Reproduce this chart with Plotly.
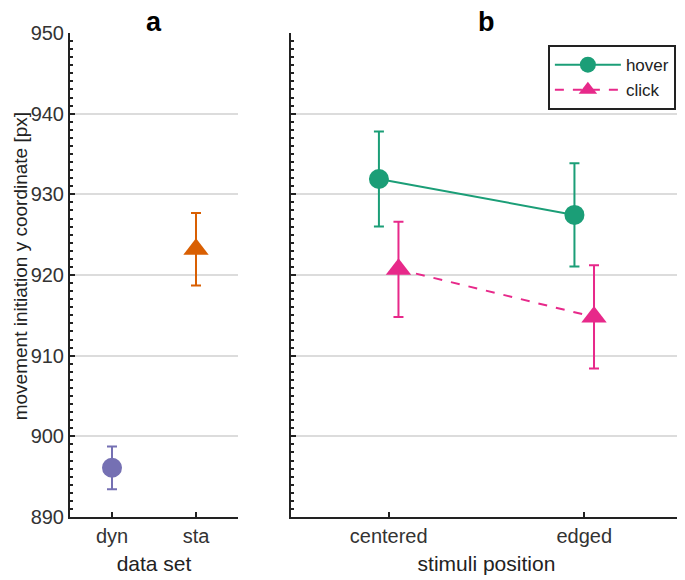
import plotly.graph_objects as go
from plotly.subplots import make_subplots

# Panel a: data set
datasets = ["dyn", "sta"]
dataset_means = [896.1, 923.2]
dataset_err = [2.65, 4.5]
dataset_colors = ["#7570b3", "#d95f02"]
dataset_symbols = ["circle", "triangle-up"]
dataset_sizes = [20, 22]

# Panel b: stimuli position
positions = ["centered", "edged"]
hover_means = [931.9, 927.45]
hover_err = [5.9, 6.4]
click_means = [920.7, 914.8]
click_err = [5.9, 6.4]

y_ticks = [890, 900, 910, 920, 930, 940, 950]

FONT = "Liberation Sans, Arial, sans-serif"

fig = make_subplots(rows=1, cols=2, column_widths=[0.2745, 0.639],
                    horizontal_spacing=0.0865, shared_yaxes=False)

# panel a
for i, name in enumerate(datasets):
    fig.add_trace(go.Scatter(
        x=[i + 1], y=[dataset_means[i]],
        mode="markers",
        marker=dict(color=dataset_colors[i], size=dataset_sizes[i], symbol=dataset_symbols[i]),
        error_y=dict(type="data", array=[dataset_err[i]], color=dataset_colors[i],
                     thickness=2, width=5),
        showlegend=False,
    ), row=1, col=1)

# panel b
xb = [i + 1 for i in range(len(positions))]
fig.add_trace(go.Scatter(
    x=[v - 0.05 for v in xb], y=hover_means,
    mode="lines+markers", name="hover",
    line=dict(color="#1b9e77", width=2),
    marker=dict(color="#1b9e77", size=20, symbol="circle"),
    error_y=dict(type="data", array=hover_err, color="#1b9e77", thickness=2, width=5),
), row=1, col=2)
fig.add_trace(go.Scatter(
    x=[v + 0.05 for v in xb], y=click_means,
    mode="lines+markers", name="click",
    line=dict(color="#e7298a", width=2, dash="dash"),
    marker=dict(color="#e7298a", size=22, symbol="triangle-up"),
    error_y=dict(type="data", array=click_err, color="#e7298a", thickness=2, width=5),
), row=1, col=2)

yaxis_common = dict(
    range=[890, 950], tickvals=y_ticks, showgrid=True, gridcolor="#dcdcdc", gridwidth=1.5,
    showline=True, linecolor="#222", linewidth=2, ticks="inside", ticklen=5,
    tickcolor="#222", tickwidth=2, zeroline=False, automargin=False,
    minor=dict(dtick=1, ticks="inside", ticklen=3, tickcolor="#222", tickwidth=1.5,
               showgrid=False),
    tickfont=dict(size=20, color="#333"),
)
fig.update_yaxes(**yaxis_common, row=1, col=1)
fig.update_yaxes(**yaxis_common, showticklabels=False, row=1, col=2)

xaxis_common = dict(
    range=[0.5, 2.5], tickvals=[1, 2], showgrid=False, showline=True,
    linecolor="#222", linewidth=2, ticks="inside", ticklen=5, tickcolor="#222",
    tickwidth=2, zeroline=False, automargin=False, tickfont=dict(size=20, color="#333"),
)
fig.update_xaxes(**xaxis_common, ticktext=datasets, domain=[0, 0.2745],
                 title=dict(text="data set", font=dict(size=21, color="#222"), standoff=10),
                 row=1, col=1)
fig.update_xaxes(**xaxis_common, ticktext=positions, domain=[0.361, 1.0],
                 title=dict(text="stimuli position", font=dict(size=21, color="#222"), standoff=10),
                 row=1, col=2)

# y title as a rotated annotation, kept just inside the left edge
fig.add_annotation(text="movement initiation y coordinate [px]", textangle=-90,
                   x=0, y=0.518, xref="paper", yref="paper", xanchor="center",
                   yanchor="middle", xshift=-50, showarrow=False,
                   font=dict(size=19, color="#222"))

# panel letters
fig.add_annotation(text="<b>a</b>", x=0.137, y=1.0, xref="paper", yref="paper",
                   xanchor="center", yanchor="bottom", yshift=-6, showarrow=False,
                   font=dict(size=27, color="black"))
fig.add_annotation(text="<b>b</b>", x=0.6805, y=1.0, xref="paper", yref="paper",
                   xanchor="center", yanchor="bottom", yshift=-6, showarrow=False,
                   font=dict(size=27, color="black"))

# page body adds an 8px offset, so the figure is sized to fit inside it
fig.update_layout(
    width=677, height=572,
    margin=dict(l=62, r=3, t=25, b=63),
    paper_bgcolor="white", plot_bgcolor="white",
    font=dict(family=FONT, color="#222"),
    legend=dict(x=0.99, y=0.975, xanchor="right", yanchor="top",
                bordercolor="#222", borderwidth=2, bgcolor="white",
                font=dict(size=17, color="#222"), itemwidth=66,
                tracegroupgap=0),
)

fig.write_html("out.html")
